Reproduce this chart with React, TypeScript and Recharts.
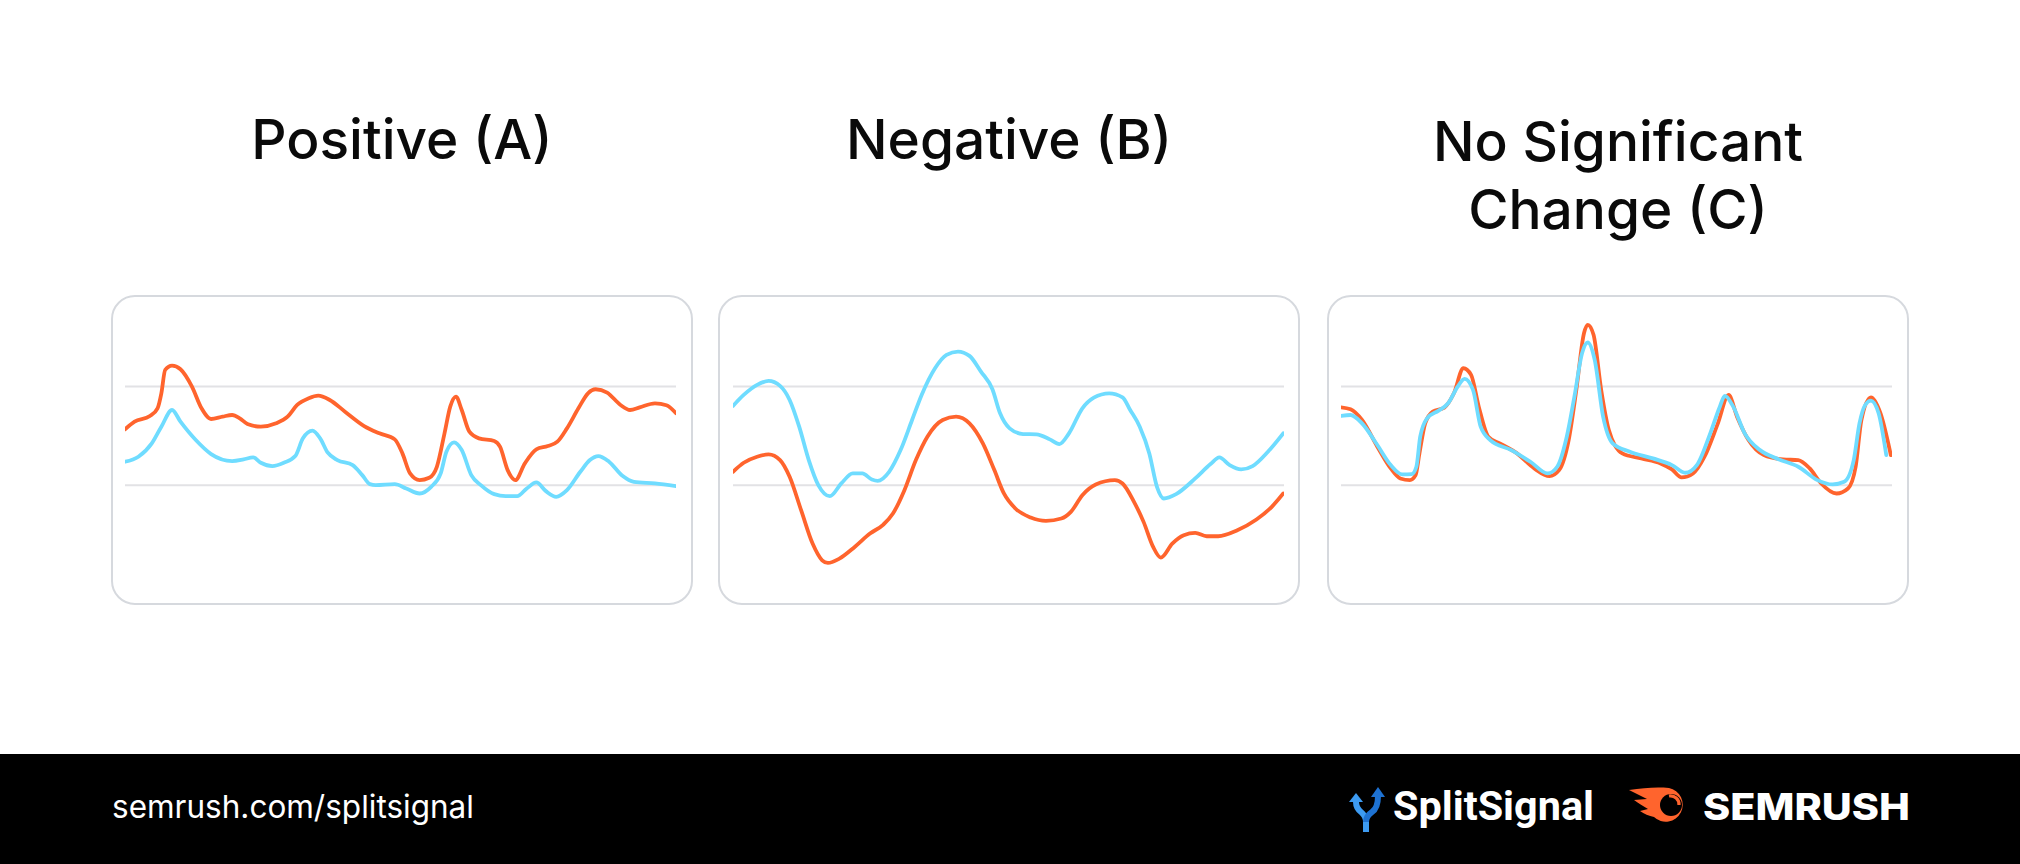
import React from "react";
import { LineChart, Line, XAxis, YAxis, ReferenceLine } from "recharts";

// x: day index (0-144), y: relative traffic level
const positiveOrange: [number, number][] = [
  [0, 47.2], [2.5, 49.5], [6.5, 51.2], [8.5, 53.5], [9.5, 58.0], [10.5, 65.0], [12.3, 66.3], [14.5, 65.2],
  [17.5, 60.0], [20, 53.5], [22.5, 50.3], [25.5, 51.0], [28, 51.5], [30, 50.5], [32, 48.8], [35.5, 48.0],
  [39.5, 49.0], [42.5, 51.0], [45, 54.5], [48, 56.5], [50.5, 57.3], [53.5, 56.0], [57.5, 52.5], [62.5, 48.2],
  [66.5, 46.0], [70.5, 44.2], [72.5, 40.0], [74.5, 34.0], [77, 32.0], [79.5, 32.7], [81.5, 36.0], [83.5, 46.0],
  [85, 54.0], [86.5, 57.0], [88, 53.0], [90, 46.5], [92.5, 44.5], [96.5, 43.7], [98, 42.0], [100, 35.0],
  [102, 32.0], [104.5, 37.0], [107.5, 41.2], [110.5, 42.2], [113, 43.5], [115.5, 47.5], [118.5, 53.5], [121, 58.0],
  [123, 59.2], [126, 58.2], [129.5, 54.5], [132, 53.0], [134.5, 53.8], [138.5, 55.0], [141.5, 54.4], [144, 52.0],
];
const positiveBlue: [number, number][] = [
  [0, 37.5], [3.5, 39.0], [7, 43.0], [9.5, 48.0], [12.3, 53.0], [14.5, 49.5], [18.5, 44.0], [22.5, 39.8],
  [28, 37.7], [31, 38.2], [33.5, 38.8], [35.5, 37.2], [38.5, 36.2], [41.5, 37.2], [44.5, 39.2], [46.5, 44.5],
  [49, 46.8], [51, 44.5], [53, 40.2], [55.5, 38.0], [59.5, 36.5], [62, 33.5], [64, 30.8], [65.5, 30.5],
  [70.5, 30.8], [73.5, 29.5], [77, 28.0], [80, 30.0], [82.5, 34.0], [84, 40.5], [86, 43.3], [88, 41.0],
  [90.5, 33.5], [93, 30.5], [96.5, 27.8], [99.5, 27.2], [102.5, 27.2], [105, 29.5], [107.5, 31.3], [110, 28.7],
  [112.7, 27.0], [115.5, 29.0], [119, 34.5], [121.5, 38.0], [123.7, 39.2], [126.5, 37.5], [130, 33.3], [133, 31.5],
  [138.5, 31.0], [144, 30.2],
];
const negativeOrange: [number, number][] = [
  [0, 34.5], [2.8, 37.2], [6.3, 39.0], [9.3, 39.7], [12.3, 38.0], [14.8, 33.0], [17.8, 23.0], [20.8, 13.0],
  [23.3, 8.0], [24.8, 7.2], [27.8, 8.5], [31.8, 12.0], [35.8, 16.0], [39.3, 18.7], [41.8, 22.0], [44.8, 29.0],
  [47.8, 38.0], [50.8, 45.0], [54.8, 50.0], [58.3, 51.0], [61.8, 49.0], [65.3, 43.0], [68.3, 35.0], [70.8, 28.0],
  [73.8, 23.5], [77.8, 20.8], [81.8, 19.8], [85.8, 20.5], [88.3, 22.5], [91.3, 27.5], [94.8, 30.7], [99.8, 32.0],
  [101.8, 31.0], [104.8, 25.5], [107.3, 19.5], [109.8, 12.0], [111.8, 8.8], [114.8, 13.0], [117.8, 15.5], [120.8, 16.2],
  [123.8, 15.2], [126.8, 15.2], [131.8, 17.0], [136.8, 20.2], [140.8, 24.0], [143.8, 28.0],
];
const negativeBlue: [number, number][] = [
  [0, 54.2], [2.8, 57.5], [6.3, 60.5], [9.3, 61.7], [12.3, 60.2], [14.8, 56.0], [17.3, 48.0], [19.8, 38.0],
  [22.3, 30.5], [25.3, 27.2], [28.3, 31.0], [31.3, 34.0], [33.8, 34.0], [36.3, 32.2], [37.8, 31.8], [40.8, 34.5],
  [43.8, 41.0], [46.8, 50.0], [49.3, 57.5], [52.8, 65.5], [55.8, 69.5], [58.8, 70.5], [61.8, 69.2], [64.8, 64.5],
  [67.8, 59.2], [69.8, 52.0], [72.3, 47.5], [75.8, 45.8], [79.3, 45.7], [82.8, 44.2], [85.3, 42.8], [87.8, 46.0],
  [91.3, 53.5], [94.3, 56.7], [98.3, 58.0], [101.8, 56.8], [103.8, 53.0], [106.3, 48.0], [108.8, 40.0], [110.8, 30.0],
  [112.6, 26.5], [115.8, 27.8], [120.8, 32.5], [124.8, 36.8], [127.1, 38.8], [129.8, 36.5], [132.8, 35.2], [135.8, 36.2],
  [139.8, 40.5], [143.8, 46.0],
];
const neutralOrange: [number, number][] = [
  [0, 53.8], [2.5, 53.2], [5.5, 50.0], [9.5, 42.0], [13, 35.5], [15.5, 32.5], [18, 32.0], [19.5, 33.5],
  [20.5, 40.0], [22, 49.0], [24, 52.5], [27, 53.7], [29.5, 58.0], [32, 65.5], [34, 63.5], [36, 54.0],
  [38.5, 45.0], [41.5, 43.0], [46, 40.0], [50.5, 35.5], [54.5, 33.2], [57, 35.0], [59.5, 44.0], [61.5, 59.0],
  [63.5, 76.0], [64.5, 78.5], [66, 75.5], [68, 59.0], [70, 47.0], [73.5, 40.0], [78.5, 38.5], [83.5, 37.0],
  [86.5, 35.2], [89, 32.8], [92, 34.0], [95, 39.0], [98.5, 49.0], [101.3, 57.5], [103.5, 51.0], [106.5, 44.0],
  [110.5, 39.5], [115.5, 38.2], [119.5, 38.0], [122.5, 35.5], [125.5, 31.0], [129.5, 28.0], [132.5, 29.5], [134.5, 36.0],
  [136, 50.0], [138.5, 56.8], [141, 52.0], [143.7, 39.5],
];
const neutralBlue: [number, number][] = [
  [0, 51.2], [2.5, 51.5], [5.5, 49.0], [9.5, 42.5], [13, 36.5], [16, 33.7], [18.5, 33.8], [19.7, 36.0],
  [20.7, 45.0], [22.5, 50.5], [25.5, 52.8], [28, 55.0], [30.5, 60.0], [32.3, 62.3], [34.5, 59.0], [36.5, 48.0],
  [39, 44.0], [44.5, 41.0], [49.5, 37.5], [54, 34.0], [56.5, 36.0], [59, 45.0], [61, 57.0], [63, 70.0],
  [64.5, 73.2], [66.3, 68.0], [68.5, 51.0], [71, 43.0], [75.5, 40.5], [81.5, 38.5], [86.5, 36.5], [90, 34.2],
  [93, 36.5], [96.5, 46.0], [99, 54.0], [100.3, 57.2], [102.5, 54.0], [105.5, 46.0], [109.5, 41.0], [114.5, 38.2],
  [119.5, 36.0], [124.5, 32.0], [128.5, 30.7], [131.5, 31.5], [134, 38.0], [135.5, 49.0], [137, 54.5], [138.5, 55.8],
  [140.5, 52.0], [142.5, 39.5],
];

const gridValues = [30.5, 60];
const titles: string[][] = [["Positive (A)"], ["Negative (B)"], ["No Significant", "Change (C)"]];
const footerUrl = "semrush.com/splitsignal";

const ORANGE = "#FF642D";
const BLUE = "#6FDCFF";

const toPts = (arr: [number, number][]) => arr.map(([x, y]) => ({ x, y }));

const panels = [
  { box: 111, plot: 125, orange: positiveOrange, blue: positiveBlue },
  { box: 718, plot: 733, orange: negativeOrange, blue: negativeBlue },
  { box: 1327, plot: 1341, orange: neutralOrange, blue: neutralBlue },
];

function Panel({ orange, blue }: { orange: [number, number][]; blue: [number, number][] }) {
  return (
    <LineChart width={551} height={334} margin={{ top: 0, right: 0, bottom: 0, left: 0 }}>
      <XAxis type="number" dataKey="x" domain={[0, 144]} hide allowDataOverflow />
      <YAxis type="number" dataKey="y" domain={[0, 100]} hide allowDataOverflow />
      {gridValues.map((g) => (
        <ReferenceLine key={g} y={g} stroke="#e2e2e5" strokeWidth={2} ifOverflow="extendDomain" />
      ))}
      <Line data={toPts(orange)} dataKey="y" type="monotone" stroke={ORANGE} strokeWidth={3.8}
        dot={false} activeDot={false} isAnimationActive={false} strokeLinecap="round" />
      <Line data={toPts(blue)} dataKey="y" type="monotone" stroke={BLUE} strokeWidth={3.8}
        dot={false} activeDot={false} isAnimationActive={false} strokeLinecap="round" />
    </LineChart>
  );
}

export default function App() {
  return (
    <div style={{ position: "relative", width: 2020, height: 864, background: "#fff", overflow: "hidden" }}>
      <style>{`body{margin:0;}`}</style>
      {panels.map((p, i) => (
        <div key={"b" + i} style={{
          position: "absolute", left: p.box, top: 295, width: 582, height: 310, boxSizing: "border-box",
          border: "2px solid #d6d9de", borderRadius: 24, background: "#fff",
        }} />
      ))}
      {panels.map((p, i) => (
        <div key={"c" + i} style={{ position: "absolute", left: p.plot, top: 253 }}>
          <Panel orange={p.orange} blue={p.blue} />
        </div>
      ))}
      <svg width={2020} height={864} style={{ position: "absolute", left: 0, top: 0, pointerEvents: "none" }}>
        {titles.map((lines, i) => {
          const cx = panels[i].box + 291;
          const base = lines.length > 1 ? 161 : 159;
          return lines.map((t, j) => (
            <text key={i + "-" + j} x={cx} y={base + j * 68} textAnchor="middle"
              fontFamily="Inter" fontWeight={500} fontSize={55} fill="#0a0a0a">{t}</text>
          ));
        })}
        <rect x={0} y={754} width={2020} height={110} fill="#000" />
        <text x={112} y={818} fontFamily="Inter" fontSize={31.5} fill="#fff">{footerUrl}</text>
        {/* SplitSignal icon */}
        <path d="M1366,832 L1366,822 Q1366,816 1361,812 Q1356,808 1356,802" stroke="#3D9BF2" strokeWidth={6} fill="none" />
        <polygon points="1349,802 1363,802 1356,793" fill="#3D9BF2" />
        <path d="M1366,822 Q1366,816 1372,812 Q1378,808 1378,796" stroke="#1E72D2" strokeWidth={6} fill="none" />
        <polygon points="1371,797 1385,797 1378,787" fill="#1E72D2" />
        <text x={1393} y={820} fontFamily="Roboto" fontWeight={700} fontSize={41} fill="#fff"
          textLength={201} lengthAdjust="spacingAndGlyphs">SplitSignal</text>
        {/* Semrush icon */}
        <path d="M1629,790 C1644,788 1655,787 1669,788 A17,17 0 1,1 1654,817 C1649,816 1644,814 1640,811 L1648,809 C1643,806 1638,803 1634,800 L1647,799 C1641,796 1635,793 1629,790 Z" fill={ORANGE} />
        <circle cx={1671} cy={805} r={11} fill="#000" />
        <path d="M1669,796 A8.5,8.5 0 0 1 1679,805" stroke={ORANGE} strokeWidth={3.2} fill="none" />
        <text x={1703} y={820} fontFamily="Inter" fontWeight={800} fontSize={37} fill="#fff"
          textLength={207} lengthAdjust="spacingAndGlyphs">SEMRUSH</text>
      </svg>
    </div>
  );
}
